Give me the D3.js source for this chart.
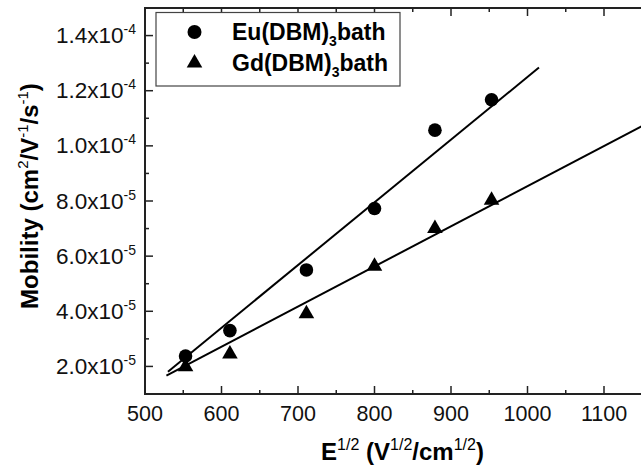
<!DOCTYPE html>
<html>
<head>
<meta charset="utf-8">
<script src="https://cdn.jsdelivr.net/npm/d3@7"></script>
<style>
  body { margin: 0; background: #fff; }
  svg { display: block; font-family: "Liberation Sans", Arial, sans-serif; }
</style>
</head>
<body>
<svg id="chart" width="641" height="466"></svg>
<script>
// field values (E^1/2) and mobilities
const fieldRoot = [553, 611, 711, 800, 879, 953];
const euMobility = [2.38e-5, 3.30e-5, 5.50e-5, 7.73e-5, 1.057e-4, 1.167e-4];
const gdMobility = [1.99e-5, 2.45e-5, 3.91e-5, 5.63e-5, 7.0e-5, 8.03e-5];
// linear fit lines, endpoints
const euFit = [[530, 1.81e-5], [1015, 1.284e-4]];
const gdFit = [[528, 1.67e-5], [1150, 1.072e-4]];

const xTicks = [500, 600, 700, 800, 900, 1000, 1100];
const xMinor = [550, 650, 750, 850, 950, 1050, 1150];
const yTicks = [2e-5, 4e-5, 6e-5, 8e-5, 1e-4, 1.2e-4, 1.4e-4];
const yMinor = [1e-5, 3e-5, 5e-5, 7e-5, 9e-5, 1.1e-4, 1.3e-4, 1.5e-4];
const yLabels = [["2.0x10", "-5"], ["4.0x10", "-5"], ["6.0x10", "-5"], ["8.0x10", "-5"],
                 ["1.0x10", "-4"], ["1.2x10", "-4"], ["1.4x10", "-4"]];

const svg = d3.select("#chart");

const x = d3.scaleLinear().domain([500, 1150]).range([145, 642.25]);
const y = d3.scaleLinear().domain([1e-5, 1.5e-4]).range([394, 8]);

const axisColor = "#222";

// axes frame (left, bottom, top); right edge falls just outside the picture
const frame = svg.append("g").attr("stroke", axisColor).attr("stroke-width", 2).attr("fill", "none");
frame.append("line").attr("x1", x(500)).attr("x2", x(500)).attr("y1", y(1.5e-4)).attr("y2", y(1e-5));
frame.append("line").attr("x1", x(500) - 1).attr("x2", x(1150)).attr("y1", y(1e-5)).attr("y2", y(1e-5));
frame.append("line").attr("x1", x(500) - 1).attr("x2", x(1150)).attr("y1", y(1.5e-4)).attr("y2", y(1.5e-4));

// ticks pointing inward
const ticks = svg.append("g").attr("stroke", axisColor).attr("stroke-width", 1.5);
const tk = (arr, len) => {
  arr.forEach(v => {
    ticks.append("line").attr("x1", x(v)).attr("x2", x(v)).attr("y1", y(1e-5)).attr("y2", y(1e-5) - len);
    ticks.append("line").attr("x1", x(v)).attr("x2", x(v)).attr("y1", y(1.5e-4)).attr("y2", y(1.5e-4) + len);
  });
};
tk(xTicks, 8);
tk(xMinor, 4);
yTicks.forEach(v => ticks.append("line").attr("x1", x(500)).attr("x2", x(500) + 8).attr("y1", y(v)).attr("y2", y(v)));
yMinor.forEach(v => ticks.append("line").attr("x1", x(500)).attr("x2", x(500) + 4).attr("y1", y(v)).attr("y2", y(v)));

// tick labels
svg.append("g").selectAll("text")
  .data(xTicks)
  .join("text")
  .attr("x", d => x(d))
  .attr("y", 421)
  .attr("text-anchor", "middle")
  .attr("font-size", 21.5)
  .attr("fill", "#111")
  .text(d => d);

const yl = svg.append("g").selectAll("text")
  .data(yTicks)
  .join("text")
  .attr("x", 136)
  .attr("y", d => y(d) + 7.5)
  .attr("text-anchor", "end")
  .attr("font-size", 22.5)
  .attr("fill", "#111");
yl.append("tspan").text((d, i) => yLabels[i][0]);
yl.append("tspan").attr("dy", -9).attr("font-size", 14).text((d, i) => yLabels[i][1]);

// fit lines
const line = d3.line().x(d => x(d[0])).y(d => y(d[1]));
svg.append("defs").append("clipPath").attr("id", "clip")
  .append("rect").attr("x", x(500)).attr("y", y(1.5e-4)).attr("width", x(1150) - x(500)).attr("height", y(1e-5) - y(1.5e-4));
const fits = svg.append("g").attr("clip-path", "url(#clip)");
[euFit, gdFit].forEach(f => fits.append("path").attr("d", line(f)).attr("stroke", "#000").attr("stroke-width", 2).attr("fill", "none"));

// markers
svg.append("g").selectAll("circle")
  .data(fieldRoot)
  .join("circle")
  .attr("cx", d => x(d))
  .attr("cy", (d, i) => y(euMobility[i]))
  .attr("r", 6.8)
  .attr("fill", "#000");

const tri = d3.symbol().type(d3.symbolTriangle).size(105);
svg.append("g").selectAll("path")
  .data(fieldRoot)
  .join("path")
  .attr("transform", (d, i) => `translate(${x(d)},${y(gdMobility[i])})`)
  .attr("d", tri)
  .attr("fill", "#000");

// legend
const legend = svg.append("g");
legend.append("rect").attr("x", 156).attr("y", 12.5).attr("width", 244).attr("height", 73.5)
  .attr("fill", "#fff").attr("stroke", "#444").attr("stroke-width", 1.2);
legend.append("circle").attr("cx", 194.5).attr("cy", 32).attr("r", 7).attr("fill", "#000");
legend.append("path").attr("transform", "translate(194.5,63)").attr("d", tri).attr("fill", "#000");
const names = [["Eu(DBM)", "3", "bath", 40], ["Gd(DBM)", "3", "bath", 70.5]];
names.forEach(n => {
  const t = legend.append("text").attr("x", 232).attr("y", n[3])
    .attr("font-size", 23).attr("font-weight", "bold").attr("fill", "#000");
  t.append("tspan").text(n[0]);
  t.append("tspan").attr("dy", 6).attr("font-size", 14).text(n[1]);
  t.append("tspan").attr("dy", -6).text(n[2]);
});

// axis titles
const xt = svg.append("text").attr("x", 402.5).attr("y", 460).attr("text-anchor", "middle")
  .attr("font-size", 24).attr("font-weight", "bold").attr("fill", "#000");
xt.append("tspan").text("E");
xt.append("tspan").attr("dy", -10).attr("font-size", 16).attr("font-weight", "normal").text("1/2");
xt.append("tspan").attr("dy", 10).text(" (V");
xt.append("tspan").attr("dy", -10).attr("font-size", 16).attr("font-weight", "normal").text("1/2");
xt.append("tspan").attr("dy", 10).text("/cm");
xt.append("tspan").attr("dy", -10).attr("font-size", 16).attr("font-weight", "normal").text("1/2");
xt.append("tspan").attr("dy", 10).text(")");

const ytl = svg.append("text").attr("transform", "translate(38,196) rotate(-90)").attr("text-anchor", "middle")
  .attr("font-size", 24).attr("font-weight", "bold").attr("fill", "#000");
ytl.append("tspan").text("Mobility (cm");
ytl.append("tspan").attr("dy", -10).attr("font-size", 15).attr("font-weight", "normal").text("2");
ytl.append("tspan").attr("dy", 10).text("/V");
ytl.append("tspan").attr("dy", -10).attr("font-size", 15).attr("font-weight", "normal").text("-1");
ytl.append("tspan").attr("dy", 10).text("/s");
ytl.append("tspan").attr("dy", -10).attr("font-size", 15).attr("font-weight", "normal").text("-1");
ytl.append("tspan").attr("dy", 10).text(")");
</script>
</body>
</html>
